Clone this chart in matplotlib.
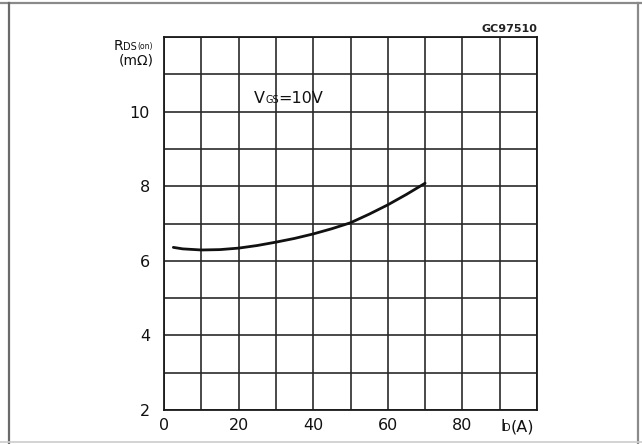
import matplotlib
matplotlib.use("Agg")
import matplotlib.pyplot as plt
from matplotlib.lines import Line2D

plt.rcParams['font.family'] = ['DejaVu Sans']

# Drain current (A) vs on-state resistance (mOhm) at VGS = 10 V
drain_current = [2.5, 5, 10, 15, 20, 25, 30, 35, 40, 45, 50, 55, 60, 65, 70]
rds_on = [6.36, 6.32, 6.29, 6.30, 6.34, 6.41, 6.50, 6.60, 6.72, 6.86,
          7.02, 7.25, 7.50, 7.78, 8.08]

x_ticks = [0, 20, 40, 60, 80]
y_ticks = [2, 4, 6, 8, 10]

W, H = 642, 444
fig = plt.figure(figsize=(W / 100, H / 100), dpi=100)


def fx(px):
    return px / W


def fy(py):
    return 1 - py / H


# page frame
fig.add_artist(Line2D([0, 1], [fy(3), fy(3)], color='#8a8a8a', lw=1.6))
fig.add_artist(Line2D([fx(9), fx(9)], [fy(3), 0], color='#6a6a6a', lw=1.6))
fig.add_artist(Line2D([fx(638), fx(638)], [fy(3), 0], color='#8a8a8a', lw=1.6))
fig.add_artist(Line2D([0, 1], [fy(442), fy(442)], color='#cccccc', lw=1.2))

ax = fig.add_axes([fx(164), fy(410), fx(537) - fx(164), fy(37) - fy(410)])
ax.plot(drain_current, rds_on, color='#111111', lw=2.0,
        solid_capstyle='round', solid_joinstyle='round')

ax.set_xlim(0, 100)
ax.set_ylim(2, 12)
ax.set_xticks(range(0, 101, 10))
ax.set_yticks(range(2, 13, 1))
ax.set_xticklabels([str(v) if v in x_ticks else '' for v in range(0, 101, 10)])
ax.set_yticklabels([str(v) if v in y_ticks else '' for v in range(2, 13, 1)])
ax.tick_params(length=0, labelsize=11.5, colors='#111111')
ax.tick_params(axis='y', pad=10)
ax.tick_params(axis='x', pad=6)
ax.grid(True, color='#2a2a2a', lw=1.2)
ax.set_axisbelow(True)
for s in ax.spines.values():
    s.set_color('#1a1a1a')
    s.set_linewidth(1.3)

txt = dict(color='#111111', va='baseline', ha='left')

# y-axis label: R_DS(on) (mOhm)
fig.text(fx(114), fy(50), 'R', fontsize=10, **txt)
fig.text(fx(123.5), fy(50), 'DS', fontsize=7, **txt)
fig.text(fx(137), fy(49.5), '(on)', fontsize=5.5, **txt)
fig.text(fx(119), fy(64.5), '(m\u03a9)', fontsize=10, **txt)

# x-axis label: I_D(A)
fig.text(fx(500), fy(431), 'I', fontsize=11, **txt)
fig.text(fx(503), fy(431), 'D', fontsize=7, **txt)
fig.text(fx(511), fy(431), '(A)', fontsize=11.5, **txt)

# condition label
fig.text(fx(254), fy(103), 'V', fontsize=11.5, **txt)
fig.text(fx(265), fy(103), 'GS', fontsize=7, **txt)
fig.text(fx(278), fy(103), '=10V', fontsize=11.5, **txt)

# drawing reference code
fig.text(fx(537), fy(32), 'GC97510', fontsize=8, color='#222222',
         ha='right', va='baseline', fontweight='bold')

fig.savefig('out.png', dpi=100)
